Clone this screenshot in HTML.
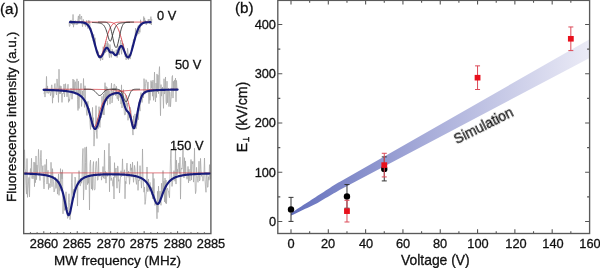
<!DOCTYPE html>
<html><head><meta charset="utf-8"><style>
html,body{margin:0;padding:0;background:#fff;}
body{width:600px;height:268px;overflow:hidden;position:relative;font-family:"Liberation Sans",sans-serif;color:#111;}
.t{position:absolute;white-space:nowrap;line-height:1;-webkit-text-stroke:0.3px #111;will-change:transform;}
svg{position:absolute;left:0;top:0;}
</style></head><body>
<svg width="600" height="268" viewBox="0 0 600 268">
<g fill="none" stroke="#a6a6a6" stroke-width="0.75" stroke-linejoin="miter">
<path d="M69.00,22.28 L69.45,26.52 L69.90,26.09 L70.35,20.03 L70.80,20.92 L71.25,19.96 L71.70,24.00 L72.15,21.95 L72.60,24.57 L73.05,14.43 L73.50,27.20 L73.95,21.78 L74.40,24.37 L74.85,21.62 L75.30,20.60 L75.75,23.68 L76.20,24.84 L76.65,21.36 L77.10,21.57 L77.55,24.41 L78.00,18.56 L78.45,15.87 L78.90,23.50 L79.35,19.43 L79.80,14.19 L80.25,18.85 L80.70,19.35 L81.15,17.30 L81.60,16.08 L82.05,22.50 L82.50,26.74 L82.95,21.51 L83.40,19.45 L83.85,23.89 L84.30,25.07 L84.75,21.66 L85.20,24.84 L85.65,26.64 L86.10,22.69 L86.55,20.44 L87.00,25.33 L87.45,25.43 L87.90,28.64 L88.35,20.30 L88.80,23.57 L89.25,23.58 L89.70,20.66 L90.15,29.29 L90.60,31.62 L91.05,27.98 L91.50,36.78 L91.95,37.65 L92.40,37.17 L92.85,37.99 L93.30,41.38 L93.75,34.40 L94.20,44.65 L94.65,46.34 L95.10,37.76 L95.55,48.00 L96.00,47.49 L96.45,52.62 L96.90,49.75 L97.35,52.86 L97.80,55.23 L98.25,51.46 L98.70,57.88 L99.15,56.14 L99.60,58.56 L100.05,54.97 L100.50,60.61 L100.95,58.83 L101.40,55.71 L101.85,57.88 L102.30,59.13 L102.75,59.97 L103.20,46.68 L103.65,55.14 L104.10,52.82 L104.55,50.00 L105.00,45.32 L105.45,52.85 L105.90,42.97 L106.35,49.73 L106.80,51.95 L107.25,41.19 L107.70,47.01 L108.15,43.38 L108.60,50.43 L109.05,55.36 L109.50,57.80 L109.95,44.49 L110.40,49.91 L110.85,54.70 L111.30,57.46 L111.75,53.69 L112.20,49.24 L112.65,53.52 L113.10,52.85 L113.55,52.13 L114.00,50.88 L114.45,55.74 L114.90,55.92 L115.35,54.82 L115.80,54.31 L116.25,49.62 L116.70,52.48 L117.15,57.63 L117.60,52.00 L118.05,45.64 L118.50,54.76 L118.95,51.85 L119.40,54.96 L119.85,47.48 L120.30,43.66 L120.75,40.03 L121.20,50.18 L121.65,54.28 L122.10,43.00 L122.55,44.37 L123.00,49.84 L123.45,43.70 L123.90,48.90 L124.35,49.74 L124.80,52.99 L125.25,57.01 L125.70,54.62 L126.15,59.88 L126.60,53.59 L127.05,57.87 L127.50,48.22 L127.95,51.27 L128.40,59.85 L128.85,54.54 L129.30,58.37 L129.75,57.53 L130.20,59.10 L130.65,56.36 L131.10,55.75 L131.55,50.62 L132.00,45.16 L132.45,44.87 L132.90,44.21 L133.35,39.80 L133.80,39.36 L134.25,40.69 L134.70,40.19 L135.15,36.32 L135.60,28.08 L136.05,34.35 L136.50,33.96 L136.95,35.39 L137.40,32.55 L137.85,26.89 L138.30,25.54 L138.75,34.10 L139.20,29.28 L139.65,32.00 L140.10,32.33 L140.55,19.81 L141.00,25.73 L141.45,25.56 L141.90,25.54 L142.35,25.19 L142.80,23.86 L143.25,23.57 L143.70,16.53 L144.15,22.01 L144.60,17.89 L145.05,22.91 L145.50,20.47 L145.95,24.36 L146.40,24.95 L146.85,23.28 L147.30,23.28 L147.75,22.54 L148.20,19.41 L148.65,21.52 L149.10,19.08 L149.55,23.44 L150.00,22.23 L150.45,24.04 L150.90,16.60 L151.35,25.01 L151.80,18.97"/>
<path d="M44.00,94.12 L44.50,90.06 L45.00,97.09 L45.50,88.75 L46.00,91.54 L46.50,76.41 L47.00,93.28 L47.50,85.93 L48.00,92.58 L48.50,93.41 L49.00,88.93 L49.50,92.38 L50.00,89.89 L50.50,95.73 L51.00,93.82 L51.50,85.15 L52.00,84.80 L52.50,103.19 L53.00,89.22 L53.50,97.59 L54.00,93.13 L54.50,85.12 L55.00,83.48 L55.50,91.15 L56.00,92.20 L56.50,94.91 L57.00,78.93 L57.50,85.01 L58.00,89.53 L58.50,102.43 L59.00,69.21 L59.50,93.78 L60.00,85.66 L60.50,93.79 L61.00,86.17 L61.50,93.37 L62.00,102.41 L62.50,93.38 L63.00,94.02 L63.50,93.61 L64.00,84.11 L64.50,97.03 L65.00,89.10 L65.50,83.73 L66.00,90.74 L66.50,89.11 L67.00,96.87 L67.50,90.91 L68.00,84.22 L68.50,102.36 L69.00,98.94 L69.50,101.13 L70.00,96.26 L70.50,90.81 L71.00,88.13 L71.50,89.49 L72.00,99.23 L72.50,93.08 L73.00,79.03 L73.50,92.16 L74.00,79.91 L74.50,94.06 L75.00,82.15 L75.50,81.79 L76.00,94.24 L76.50,92.85 L77.00,78.82 L77.50,99.62 L78.00,110.49 L78.50,81.21 L79.00,108.49 L79.50,88.97 L80.00,91.06 L80.50,94.27 L81.00,83.28 L81.50,106.47 L82.00,100.91 L82.50,90.97 L83.00,95.82 L83.50,78.47 L84.00,96.50 L84.50,107.40 L85.00,85.76 L85.50,98.18 L86.00,104.20 L86.50,112.04 L87.00,115.49 L87.50,102.55 L88.00,101.41 L88.50,112.98 L89.00,107.98 L89.50,110.21 L90.00,122.95 L90.50,129.45 L91.00,120.74 L91.50,118.11 L92.00,126.89 L92.50,107.39 L93.00,125.78 L93.50,117.69 L94.00,146.11 L94.50,134.17 L95.00,130.02 L95.50,127.02 L96.00,105.60 L96.50,132.75 L97.00,138.56 L97.50,118.53 L98.00,128.82 L98.50,127.61 L99.00,106.66 L99.50,125.96 L100.00,127.39 L100.50,117.19 L101.00,113.13 L101.50,117.84 L102.00,96.31 L102.50,109.17 L103.00,114.75 L103.50,94.12 L104.00,115.04 L104.50,98.80 L105.00,82.66 L105.50,99.39 L106.00,86.30 L106.50,101.01 L107.00,87.36 L107.50,105.17 L108.00,90.12 L108.50,98.97 L109.00,90.55 L109.50,92.63 L110.00,104.15 L110.50,96.55 L111.00,91.12 L111.50,83.18 L112.00,102.93 L112.50,99.54 L113.00,90.93 L113.50,95.54 L114.00,84.31 L114.50,84.31 L115.00,85.90 L115.50,95.88 L116.00,95.37 L116.50,86.38 L117.00,98.57 L117.50,98.91 L118.00,94.35 L118.50,100.92 L119.00,90.69 L119.50,92.51 L120.00,97.46 L120.50,94.14 L121.00,104.11 L121.50,84.85 L122.00,107.98 L122.50,91.63 L123.00,98.73 L123.50,89.49 L124.00,108.11 L124.50,114.84 L125.00,114.87 L125.50,114.44 L126.00,95.29 L126.50,103.14 L127.00,106.68 L127.50,102.97 L128.00,120.30 L128.50,113.83 L129.00,112.98 L129.50,117.87 L130.00,106.97 L130.50,109.01 L131.00,111.17 L131.50,124.95 L132.00,125.94 L132.50,129.72 L133.00,135.09 L133.50,115.78 L134.00,123.14 L134.50,128.61 L135.00,113.88 L135.50,119.11 L136.00,128.95 L136.50,126.82 L137.00,123.76 L137.50,113.17 L138.00,108.23 L138.50,119.73 L139.00,101.89 L139.50,105.65 L140.00,111.15 L140.50,96.23 L141.00,92.59 L141.50,96.75 L142.00,102.50 L142.50,98.50 L143.00,95.31 L143.50,97.70 L144.00,78.63 L144.50,84.88 L145.00,94.11 L145.50,83.64 L146.00,79.69 L146.50,80.70 L147.00,83.14 L147.50,89.66 L148.00,81.94 L148.50,92.80 L149.00,103.66 L149.50,89.53 L150.00,100.34 L150.50,92.87 L151.00,80.56 L151.50,88.27 L152.00,81.69 L152.50,96.23 L153.00,80.05 L153.50,100.30 L154.00,94.68 L154.50,72.10 L155.00,96.14 L155.50,101.87 L156.00,83.08 L156.50,97.55 L157.00,73.95 L157.50,92.00 L158.00,75.13 L158.50,93.67 L159.00,73.94 L159.50,66.61 L160.00,92.96 L160.50,115.70 L161.00,84.58 L161.50,96.15 L162.00,90.74 L162.50,86.98 L163.00,94.49 L163.50,108.34 L164.00,78.73 L164.50,94.06 L165.00,92.40 L165.50,76.98 L166.00,101.90 L166.50,104.40 L167.00,81.19 L167.50,102.79 L168.00,90.16 L168.50,88.26 L169.00,106.63 L169.50,91.41 L170.00,92.12 L170.50,106.76 L171.00,99.34 L171.50,96.37 L172.00,77.06 L172.50,75.50 L173.00,98.09 L173.50,81.30 L174.00,90.74 L174.50,79.96 L175.00,87.96 L175.50,78.10 L176.00,101.83 L176.50,80.43 L177.00,88.49 L177.50,87.89"/>
<path d="M24.50,149.70 L25.00,168.90 L25.50,170.60 L26.00,185.51 L26.50,194.12 L27.00,158.55 L27.50,197.37 L28.00,188.72 L28.50,181.84 L29.00,177.39 L29.50,196.96 L30.00,174.70 L30.50,168.54 L31.00,175.30 L31.50,158.29 L32.00,178.52 L32.50,172.82 L33.00,178.86 L33.50,177.53 L34.00,161.99 L34.50,186.67 L35.00,162.56 L35.50,182.67 L36.00,155.97 L36.50,179.67 L37.00,164.94 L37.50,174.79 L38.00,166.96 L38.50,149.39 L39.00,161.72 L39.50,175.21 L40.00,180.54 L40.50,157.80 L41.00,150.31 L41.50,164.77 L42.00,172.43 L42.50,167.64 L43.00,165.68 L43.50,183.11 L44.00,188.94 L44.50,182.23 L45.00,164.51 L45.50,176.08 L46.00,173.25 L46.50,159.16 L47.00,184.04 L47.50,176.60 L48.00,170.34 L48.50,189.48 L49.00,183.41 L49.50,184.43 L50.00,187.86 L50.50,183.45 L51.00,162.29 L51.50,172.56 L52.00,186.75 L52.50,168.63 L53.00,178.04 L53.50,181.74 L54.00,191.95 L54.50,190.91 L55.00,187.46 L55.50,177.19 L56.00,188.41 L56.50,185.20 L57.00,178.85 L57.50,194.14 L58.00,186.56 L58.50,173.88 L59.00,195.34 L59.50,181.25 L60.00,190.73 L60.50,168.64 L61.00,187.11 L61.50,172.39 L62.00,178.90 L62.50,169.73 L63.00,213.83 L63.50,193.73 L64.00,199.84 L64.50,210.42 L65.00,200.95 L65.50,209.73 L66.00,191.75 L66.50,211.62 L67.00,207.15 L67.50,218.36 L68.00,217.40 L68.50,199.36 L69.00,193.78 L69.50,202.50 L70.00,219.64 L70.50,214.69 L71.00,212.18 L71.50,182.66 L72.00,173.37 L72.50,193.70 L73.00,194.68 L73.50,189.35 L74.00,197.61 L74.50,190.42 L75.00,177.07 L75.50,179.07 L76.00,189.18 L76.50,187.28 L77.00,184.65 L77.50,206.06 L78.00,180.62 L78.50,184.57 L79.00,170.68 L79.50,177.36 L80.00,185.89 L80.50,185.77 L81.00,178.10 L81.50,183.22 L82.00,179.60 L82.50,157.08 L83.00,148.48 L83.50,200.03 L84.00,185.70 L84.50,176.90 L85.00,147.34 L85.50,162.44 L86.00,189.79 L86.50,146.83 L87.00,172.83 L87.50,184.65 L88.00,177.62 L88.50,183.29 L89.00,174.49 L89.50,209.98 L90.00,163.95 L90.50,160.00 L91.00,178.18 L91.50,189.06 L92.00,174.43 L92.50,190.27 L93.00,166.09 L93.50,161.55 L94.00,188.41 L94.50,189.96 L95.00,189.56 L95.50,169.90 L96.00,161.61 L96.50,161.40 L97.00,172.22 L97.50,180.29 L98.00,179.56 L98.50,158.19 L99.00,176.50 L99.50,174.78 L100.00,175.44 L100.50,174.29 L101.00,172.21 L101.50,180.14 L102.00,175.69 L102.50,176.60 L103.00,166.50 L103.50,178.18 L104.00,173.01 L104.50,150.07 L105.00,178.97 L105.50,171.32 L106.00,183.15 L106.50,172.48 L107.00,173.23 L107.50,176.33 L108.00,174.18 L108.50,169.17 L109.00,143.37 L109.50,191.81 L110.00,156.14 L110.50,170.37 L111.00,180.50 L111.50,177.90 L112.00,179.68 L112.50,181.61 L113.00,186.30 L113.50,177.13 L114.00,199.01 L114.50,162.66 L115.00,177.56 L115.50,170.18 L116.00,168.07 L116.50,177.08 L117.00,188.22 L117.50,166.21 L118.00,166.21 L118.50,181.29 L119.00,179.59 L119.50,193.04 L120.00,184.22 L120.50,176.66 L121.00,170.71 L121.50,176.57 L122.00,172.53 L122.50,158.87 L123.00,174.68 L123.50,172.61 L124.00,171.98 L124.50,169.75 L125.00,198.81 L125.50,181.38 L126.00,183.70 L126.50,167.85 L127.00,163.12 L127.50,171.68 L128.00,177.30 L128.50,171.06 L129.00,172.92 L129.50,184.27 L130.00,178.04 L130.50,163.95 L131.00,170.41 L131.50,167.84 L132.00,177.19 L132.50,162.13 L133.00,173.58 L133.50,182.31 L134.00,176.10 L134.50,165.42 L135.00,168.94 L135.50,177.92 L136.00,180.86 L136.50,184.35 L137.00,174.87 L137.50,161.53 L138.00,190.38 L138.50,179.84 L139.00,181.04 L139.50,180.28 L140.00,165.65 L140.50,174.13 L141.00,180.49 L141.50,188.11 L142.00,179.14 L142.50,148.97 L143.00,176.41 L143.50,182.88 L144.00,192.19 L144.50,187.06 L145.00,204.40 L145.50,201.51 L146.00,194.53 L146.50,191.24 L147.00,166.99 L147.50,191.59 L148.00,189.95 L148.50,178.98 L149.00,191.44 L149.50,190.74 L150.00,182.40 L150.50,187.38 L151.00,186.90 L151.50,194.41 L152.00,187.51 L152.50,198.89 L153.00,173.03 L153.50,193.24 L154.00,178.49 L154.50,193.66 L155.00,205.40 L155.50,201.84 L156.00,201.33 L156.50,204.00 L157.00,218.75 L157.50,191.33 L158.00,212.39 L158.50,186.18 L159.00,197.54 L159.50,203.58 L160.00,191.15 L160.50,201.67 L161.00,205.31 L161.50,183.28 L162.00,194.72 L162.50,189.90 L163.00,170.56 L163.50,189.43 L164.00,181.18 L164.50,201.91 L165.00,178.04 L165.50,203.24 L166.00,180.02 L166.50,203.70 L167.00,189.61 L167.50,188.06 L168.00,190.72 L168.50,191.01 L169.00,195.19 L169.50,197.79 L170.00,176.85 L170.50,158.82 L171.00,150.06 L171.50,175.12 L172.00,186.44 L172.50,182.48 L173.00,179.67 L173.50,174.26 L174.00,170.66 L174.50,174.51 L175.00,181.24 L175.50,146.88 L176.00,184.05 L176.50,160.16 L177.00,174.94 L177.50,169.29 L178.00,172.19 L178.50,164.24 L179.00,162.86 L179.50,173.34 L180.00,157.13 L180.50,199.11 L181.00,170.84 L181.50,167.97 L182.00,169.09 L182.50,162.99 L183.00,146.98 L183.50,172.20 L184.00,178.02 L184.50,157.69 L185.00,174.98 L185.50,160.93 L186.00,174.37 L186.50,178.14 L187.00,179.28 L187.50,178.75 L188.00,166.45 L188.50,182.87 L189.00,169.29 L189.50,177.73 L190.00,181.06 L190.50,170.81 L191.00,159.49 L191.50,180.07 L192.00,161.34 L192.50,163.90 L193.00,161.43 L193.50,182.10 L194.00,172.17 L194.50,148.15 L195.00,180.98 L195.50,193.64 L196.00,191.04 L196.50,167.36 L197.00,174.62 L197.50,178.70 L198.00,182.32 L198.50,174.26 L199.00,161.18 L199.50,180.94 L200.00,179.59 L200.50,158.40 L201.00,169.46 L201.50,176.24 L202.00,173.61 L202.50,178.62 L203.00,181.18 L203.50,178.75 L204.00,172.25 L204.50,158.04 L205.00,179.40 L205.50,186.85 L206.00,192.29 L206.50,173.10 L207.00,173.06 L207.50,187.22 L208.00,187.14 L208.50,176.69 L209.00,180.21 L209.50,164.64 L210.00,178.96"/>
</g>
<g fill="none" stroke-width="0.9">
<path stroke="#d63c44" d="M70.00,22.10 L70.50,22.10 L71.00,22.10 L71.50,22.10 L72.00,22.10 L72.50,22.10 L73.00,22.10 L73.50,22.10 L74.00,22.10 L74.50,22.10 L75.00,22.10 L75.50,22.10 L76.00,22.10 L76.50,22.11 L77.00,22.11 L77.50,22.11 L78.00,22.11 L78.50,22.12 L79.00,22.12 L79.50,22.13 L80.00,22.14 L80.50,22.15 L81.00,22.17 L81.50,22.20 L82.00,22.24 L82.50,22.29 L83.00,22.35 L83.50,22.43 L84.00,22.53 L84.50,22.67 L85.00,22.84 L85.50,23.04 L86.00,23.30 L86.50,23.62 L87.00,24.01 L87.50,24.47 L88.00,25.02 L88.50,25.67 L89.00,26.42 L89.50,27.29 L90.00,28.28 L90.50,29.40 L91.00,30.65 L91.50,32.03 L92.00,33.53 L92.50,35.14 L93.00,36.86 L93.50,38.66 L94.00,40.52 L94.50,42.42 L95.00,44.32 L95.50,46.19 L96.00,48.00 L96.50,49.71 L97.00,51.28 L97.50,52.68 L98.00,53.88 L98.50,54.84 L99.00,55.54 L99.50,55.96 L100.00,56.10 L100.50,55.95 L101.00,55.52 L101.50,54.81 L102.00,53.84 L102.50,52.64 L103.00,51.24 L103.50,49.66 L104.00,47.95 L104.50,46.13 L105.00,44.26 L105.50,42.36 L106.00,40.46 L106.50,38.60 L107.00,36.80 L107.50,35.09 L108.00,33.48 L108.50,31.98 L109.00,30.61 L109.50,29.36 L110.00,28.25 L110.50,27.26 L111.00,26.40 L111.50,25.65 L112.00,25.00 L112.50,24.45 L113.00,23.99 L113.50,23.61 L114.00,23.29 L114.50,23.04 L115.00,22.83 L115.50,22.66 L116.00,22.53 L116.50,22.43 L117.00,22.35 L117.50,22.28 L118.00,22.24 L118.50,22.20 L119.00,22.17 L119.50,22.15 L120.00,22.14 L120.50,22.13 L121.00,22.12 L121.50,22.12 L122.00,22.11 L122.50,22.11 L123.00,22.11 L123.50,22.11 L124.00,22.10 L124.50,22.10 L125.00,22.10 L125.50,22.10 L126.00,22.10 L126.50,22.10 L127.00,22.10 L127.50,22.10 L128.00,22.10 L128.50,22.10 L129.00,22.10 L129.50,22.10 L130.00,22.10 L130.50,22.10 L131.00,22.10 L131.50,22.10 L132.00,22.10 L132.50,22.10 L133.00,22.10 L133.50,22.10 L134.00,22.10 L134.50,22.10 L135.00,22.10 L135.50,22.10 L136.00,22.10 L136.50,22.10 L137.00,22.10 L137.50,22.10 L138.00,22.10 L138.50,22.10 L139.00,22.10 L139.50,22.10 L140.00,22.10 L140.50,22.10 L141.00,22.10 L141.50,22.10 L142.00,22.10 L142.50,22.10 L143.00,22.10 L143.50,22.10 L144.00,22.10 L144.50,22.10 L145.00,22.10 L145.50,22.10 L146.00,22.10 L146.50,22.10 L147.00,22.10 L147.50,22.10 L148.00,22.10 L148.50,22.10 L149.00,22.10 L149.50,22.10 L150.00,22.10 L150.50,22.10 L151.00,22.10"/>
<path stroke="#d63c44" d="M70.00,22.10 L70.50,22.10 L71.00,22.10 L71.50,22.10 L72.00,22.10 L72.50,22.10 L73.00,22.10 L73.50,22.10 L74.00,22.10 L74.50,22.10 L75.00,22.10 L75.50,22.10 L76.00,22.10 L76.50,22.10 L77.00,22.10 L77.50,22.10 L78.00,22.10 L78.50,22.10 L79.00,22.10 L79.50,22.10 L80.00,22.10 L80.50,22.10 L81.00,22.10 L81.50,22.10 L82.00,22.10 L82.50,22.10 L83.00,22.10 L83.50,22.10 L84.00,22.10 L84.50,22.10 L85.00,22.10 L85.50,22.10 L86.00,22.10 L86.50,22.10 L87.00,22.10 L87.50,22.10 L88.00,22.10 L88.50,22.10 L89.00,22.10 L89.50,22.10 L90.00,22.10 L90.50,22.10 L91.00,22.10 L91.50,22.10 L92.00,22.10 L92.50,22.10 L93.00,22.10 L93.50,22.10 L94.00,22.10 L94.50,22.10 L95.00,22.10 L95.50,22.10 L96.00,22.10 L96.50,22.10 L97.00,22.10 L97.50,22.10 L98.00,22.10 L98.50,22.10 L99.00,22.10 L99.50,22.10 L100.00,22.10 L100.50,22.10 L101.00,22.10 L101.50,22.10 L102.00,22.10 L102.50,22.10 L103.00,22.10 L103.50,22.10 L104.00,22.11 L104.50,22.11 L105.00,22.11 L105.50,22.11 L106.00,22.11 L106.50,22.12 L107.00,22.13 L107.50,22.13 L108.00,22.15 L108.50,22.16 L109.00,22.19 L109.50,22.22 L110.00,22.26 L110.50,22.31 L111.00,22.39 L111.50,22.48 L112.00,22.59 L112.50,22.74 L113.00,22.92 L113.50,23.14 L114.00,23.42 L114.50,23.76 L115.00,24.17 L115.50,24.65 L116.00,25.23 L116.50,25.90 L117.00,26.68 L117.50,27.58 L118.00,28.59 L118.50,29.74 L119.00,31.01 L119.50,32.41 L120.00,33.92 L120.50,35.56 L121.00,37.29 L121.50,39.10 L122.00,40.98 L122.50,42.89 L123.00,44.81 L123.50,46.70 L124.00,48.53 L124.50,50.26 L125.00,51.86 L125.50,53.30 L126.00,54.53 L126.50,55.54 L127.00,56.30 L127.50,56.79 L128.00,57.00 L128.50,56.92 L129.00,56.56 L129.50,55.92 L130.00,55.02 L130.50,53.88 L131.00,52.53 L131.50,51.00 L132.00,49.33 L132.50,47.54 L133.00,45.67 L133.50,43.76 L134.00,41.84 L134.50,39.95 L135.00,38.10 L135.50,36.33 L136.00,34.65 L136.50,33.08 L137.00,31.63 L137.50,30.30 L138.00,29.10 L138.50,28.02 L139.00,27.07 L139.50,26.24 L140.00,25.52 L140.50,24.90 L141.00,24.38 L141.50,23.93 L142.00,23.57 L142.50,23.26 L143.00,23.01 L143.50,22.81 L144.00,22.65 L144.50,22.52 L145.00,22.42 L145.50,22.34 L146.00,22.28 L146.50,22.24 L147.00,22.20 L147.50,22.17 L148.00,22.15 L148.50,22.14 L149.00,22.13 L149.50,22.12 L150.00,22.12 L150.50,22.11 L151.00,22.11"/>
<path stroke="#333333" d="M92.00,22.44 L92.50,22.46 L93.00,22.48 L93.50,22.50 L94.00,22.52 L94.50,22.55 L95.00,22.58 L95.50,22.61 L96.00,22.64 L96.50,22.68 L97.00,22.73 L97.50,22.77 L98.00,22.83 L98.50,22.89 L99.00,22.96 L99.50,23.05 L100.00,23.15 L100.50,23.28 L101.00,23.44 L101.50,23.63 L102.00,23.88 L102.50,24.19 L103.00,24.58 L103.50,25.07 L104.00,25.67 L104.50,26.41 L105.00,27.31 L105.50,28.37 L106.00,29.60 L106.50,31.00 L107.00,32.57 L107.50,34.28 L108.00,36.06 L108.50,37.83 L109.00,39.41 L109.50,40.61 L110.00,41.20 L110.50,41.07 L111.00,40.23 L111.50,38.86 L112.00,37.19 L112.50,35.40 L113.00,33.63 L113.50,31.97 L114.00,30.46 L114.50,29.12 L115.00,27.95 L115.50,26.96 L116.00,26.12 L116.50,25.43 L117.00,24.87 L117.50,24.42 L118.00,24.06 L118.50,23.78 L119.00,23.55 L119.50,23.38 L120.00,23.23 L120.50,23.11 L121.00,23.02 L121.50,22.94 L122.00,22.87 L122.50,22.81 L123.00,22.75 L123.50,22.71 L124.00,22.67 L124.50,22.63 L125.00,22.60 L125.50,22.57 L126.00,22.54 L126.50,22.51 L127.00,22.49 L127.50,22.47 L128.00,22.45 L128.50,22.43 L129.00,22.41 L129.50,22.40 L130.00,22.38"/>
<path stroke="#333333" d="M98.00,22.10 L98.50,22.10 L99.00,22.10 L99.50,22.10 L100.00,22.10 L100.50,22.10 L101.00,22.10 L101.50,22.10 L102.00,22.10 L102.50,22.11 L103.00,22.11 L103.50,22.12 L104.00,22.13 L104.50,22.15 L105.00,22.18 L105.50,22.23 L106.00,22.31 L106.50,22.44 L107.00,22.62 L107.50,22.89 L108.00,23.28 L108.50,23.80 L109.00,24.51 L109.50,25.44 L110.00,26.60 L110.50,28.04 L111.00,29.74 L111.50,31.70 L112.00,33.88 L112.50,36.20 L113.00,38.59 L113.50,40.93 L114.00,43.09 L114.50,44.94 L115.00,46.37 L115.50,47.28 L116.00,47.61 L116.50,47.32 L117.00,46.45 L117.50,45.05 L118.00,43.22 L118.50,41.08 L119.00,38.75 L119.50,36.36 L120.00,34.03 L120.50,31.84 L121.00,29.86 L121.50,28.14 L122.00,26.69 L122.50,25.51 L123.00,24.57 L123.50,23.85 L124.00,23.31 L124.50,22.91 L125.00,22.64 L125.50,22.45 L126.00,22.32 L126.50,22.23 L127.00,22.18 L127.50,22.15 L128.00,22.13 L128.50,22.12 L129.00,22.11 L129.50,22.11 L130.00,22.10 L130.50,22.10 L131.00,22.10 L131.50,22.10 L132.00,22.10 L132.50,22.10 L133.00,22.10 L133.50,22.10 L134.00,22.10"/>
<path stroke="#d63c44" d="M43.40,89.79 L43.90,89.80 L44.40,89.82 L44.90,89.83 L45.40,89.84 L45.90,89.85 L46.40,89.87 L46.90,89.88 L47.40,89.89 L47.90,89.91 L48.40,89.92 L48.90,89.94 L49.40,89.96 L49.90,89.97 L50.40,89.99 L50.90,90.01 L51.40,90.02 L51.90,90.04 L52.40,90.06 L52.90,90.08 L53.40,90.10 L53.90,90.13 L54.40,90.15 L54.90,90.17 L55.40,90.20 L55.90,90.22 L56.40,90.25 L56.90,90.27 L57.40,90.30 L57.90,90.33 L58.40,90.36 L58.90,90.39 L59.40,90.43 L59.90,90.46 L60.40,90.50 L60.90,90.53 L61.40,90.57 L61.90,90.61 L62.40,90.66 L62.90,90.70 L63.40,90.75 L63.90,90.80 L64.40,90.85 L64.90,90.90 L65.40,90.96 L65.90,91.02 L66.40,91.08 L66.90,91.14 L67.40,91.21 L67.90,91.28 L68.40,91.36 L68.90,91.44 L69.40,91.52 L69.90,91.61 L70.40,91.71 L70.90,91.81 L71.40,91.91 L71.90,92.02 L72.40,92.14 L72.90,92.27 L73.40,92.40 L73.90,92.55 L74.40,92.70 L74.90,92.86 L75.40,93.04 L75.90,93.23 L76.40,93.43 L76.90,93.64 L77.40,93.87 L77.90,94.12 L78.40,94.39 L78.90,94.68 L79.40,94.99 L79.90,95.33 L80.40,95.70 L80.90,96.10 L81.40,96.53 L81.90,97.00 L82.40,97.52 L82.90,98.08 L83.40,98.69 L83.90,99.37 L84.40,100.10 L84.90,100.91 L85.40,101.79 L85.90,102.76 L86.40,103.83 L86.90,104.99 L87.40,106.26 L87.90,107.64 L88.40,109.13 L88.90,110.74 L89.40,112.45 L89.90,114.26 L90.40,116.13 L90.90,118.03 L91.40,119.91 L91.90,121.72 L92.40,123.37 L92.90,124.78 L93.40,125.87 L93.90,126.57 L94.40,126.84 L94.90,126.65 L95.40,126.02 L95.90,125.00 L96.40,123.64 L96.90,122.03 L97.40,120.25 L97.90,118.38 L98.40,116.47 L98.90,114.59 L99.40,112.77 L99.90,111.04 L100.40,109.42 L100.90,107.90 L101.40,106.50 L101.90,105.21 L102.40,104.03 L102.90,102.95 L103.40,101.96 L103.90,101.06 L104.40,100.24 L104.90,99.50 L105.40,98.81 L105.90,98.19 L106.40,97.62 L106.90,97.09 L107.40,96.61 L107.90,96.17 L108.40,95.77 L108.90,95.40 L109.40,95.05 L109.90,94.74 L110.40,94.44 L110.90,94.17 L111.40,93.92 L111.90,93.68 L112.40,93.46 L112.90,93.26 L113.40,93.07 L113.90,92.90 L114.40,92.73 L114.90,92.58 L115.40,92.43 L115.90,92.29 L116.40,92.17 L116.90,92.05 L117.40,91.93 L117.90,91.82 L118.40,91.72 L118.90,91.63 L119.40,91.54 L119.90,91.45 L120.40,91.37 L120.90,91.30 L121.40,91.22 L121.90,91.15 L122.40,91.09 L122.90,91.03 L123.40,90.97 L123.90,90.91 L124.40,90.86 L124.90,90.81 L125.40,90.76 L125.90,90.71 L126.40,90.66 L126.90,90.62 L127.40,90.58 L127.90,90.54 L128.40,90.50 L128.90,90.47 L129.40,90.43 L129.90,90.40 L130.40,90.37 L130.90,90.34 L131.40,90.31 L131.90,90.28 L132.40,90.25 L132.90,90.23 L133.40,90.20 L133.90,90.18 L134.40,90.15 L134.90,90.13 L135.40,90.11 L135.90,90.09 L136.40,90.07 L136.90,90.05 L137.40,90.03 L137.90,90.01 L138.40,89.99 L138.90,89.97 L139.40,89.96 L139.90,89.94 L140.40,89.93 L140.90,89.91 L141.40,89.90 L141.90,89.88 L142.40,89.87 L142.90,89.86 L143.40,89.84 L143.90,89.83 L144.40,89.82 L144.90,89.81 L145.40,89.79 L145.90,89.78 L146.40,89.77 L146.90,89.76 L147.40,89.75 L147.90,89.74 L148.40,89.73 L148.90,89.72 L149.40,89.71 L149.90,89.70 L150.40,89.70 L150.90,89.69 L151.40,89.68 L151.90,89.67 L152.40,89.66 L152.90,89.66 L153.40,89.65 L153.90,89.64 L154.40,89.63 L154.90,89.63 L155.40,89.62 L155.90,89.61 L156.40,89.61 L156.90,89.60 L157.40,89.59 L157.90,89.59 L158.40,89.58 L158.90,89.58 L159.40,89.57 L159.90,89.57 L160.40,89.56 L160.90,89.55 L161.40,89.55 L161.90,89.54 L162.40,89.54 L162.90,89.53 L163.40,89.53 L163.90,89.53 L164.40,89.52 L164.90,89.52 L165.40,89.51 L165.90,89.51 L166.40,89.50 L166.90,89.50 L167.40,89.50 L167.90,89.49 L168.40,89.49 L168.90,89.48 L169.40,89.48 L169.90,89.48 L170.40,89.47 L170.90,89.47 L171.40,89.47 L171.90,89.46 L172.40,89.46 L172.90,89.46 L173.40,89.45 L173.90,89.45 L174.40,89.45 L174.90,89.45 L175.40,89.44 L175.90,89.44 L176.40,89.44 L176.90,89.43 L177.40,89.43"/>
<path stroke="#d63c44" d="M43.40,89.24 L43.90,89.24 L44.40,89.24 L44.90,89.24 L45.40,89.24 L45.90,89.25 L46.40,89.25 L46.90,89.25 L47.40,89.25 L47.90,89.25 L48.40,89.25 L48.90,89.25 L49.40,89.25 L49.90,89.25 L50.40,89.25 L50.90,89.25 L51.40,89.25 L51.90,89.25 L52.40,89.25 L52.90,89.25 L53.40,89.25 L53.90,89.25 L54.40,89.25 L54.90,89.25 L55.40,89.26 L55.90,89.26 L56.40,89.26 L56.90,89.26 L57.40,89.26 L57.90,89.26 L58.40,89.26 L58.90,89.26 L59.40,89.26 L59.90,89.26 L60.40,89.26 L60.90,89.26 L61.40,89.26 L61.90,89.26 L62.40,89.26 L62.90,89.27 L63.40,89.27 L63.90,89.27 L64.40,89.27 L64.90,89.27 L65.40,89.27 L65.90,89.27 L66.40,89.27 L66.90,89.27 L67.40,89.27 L67.90,89.27 L68.40,89.28 L68.90,89.28 L69.40,89.28 L69.90,89.28 L70.40,89.28 L70.90,89.28 L71.40,89.28 L71.90,89.28 L72.40,89.28 L72.90,89.29 L73.40,89.29 L73.90,89.29 L74.40,89.29 L74.90,89.29 L75.40,89.29 L75.90,89.29 L76.40,89.30 L76.90,89.30 L77.40,89.30 L77.90,89.30 L78.40,89.30 L78.90,89.30 L79.40,89.31 L79.90,89.31 L80.40,89.31 L80.90,89.31 L81.40,89.31 L81.90,89.32 L82.40,89.32 L82.90,89.32 L83.40,89.32 L83.90,89.32 L84.40,89.33 L84.90,89.33 L85.40,89.33 L85.90,89.33 L86.40,89.34 L86.90,89.34 L87.40,89.34 L87.90,89.34 L88.40,89.35 L88.90,89.35 L89.40,89.35 L89.90,89.36 L90.40,89.36 L90.90,89.36 L91.40,89.37 L91.90,89.37 L92.40,89.38 L92.90,89.38 L93.40,89.38 L93.90,89.39 L94.40,89.39 L94.90,89.40 L95.40,89.40 L95.90,89.41 L96.40,89.41 L96.90,89.42 L97.40,89.42 L97.90,89.43 L98.40,89.44 L98.90,89.44 L99.40,89.45 L99.90,89.46 L100.40,89.46 L100.90,89.47 L101.40,89.48 L101.90,89.49 L102.40,89.50 L102.90,89.51 L103.40,89.52 L103.90,89.53 L104.40,89.54 L104.90,89.55 L105.40,89.56 L105.90,89.57 L106.40,89.59 L106.90,89.60 L107.40,89.61 L107.90,89.63 L108.40,89.65 L108.90,89.66 L109.40,89.68 L109.90,89.70 L110.40,89.72 L110.90,89.74 L111.40,89.77 L111.90,89.79 L112.40,89.82 L112.90,89.85 L113.40,89.88 L113.90,89.91 L114.40,89.95 L114.90,89.98 L115.40,90.02 L115.90,90.07 L116.40,90.12 L116.90,90.17 L117.40,90.23 L117.90,90.29 L118.40,90.36 L118.90,90.43 L119.40,90.52 L119.90,90.62 L120.40,90.73 L120.90,90.86 L121.40,91.02 L121.90,91.21 L122.40,91.43 L122.90,91.70 L123.40,92.04 L123.90,92.45 L124.40,92.95 L124.90,93.56 L125.40,94.30 L125.90,95.19 L126.40,96.25 L126.90,97.50 L127.40,98.96 L127.90,100.64 L128.40,102.54 L128.90,104.67 L129.40,107.02 L129.90,109.57 L130.40,112.28 L130.90,115.10 L131.40,117.94 L131.90,120.69 L132.40,123.18 L132.90,125.21 L133.40,126.56 L133.90,127.06 L134.40,126.66 L134.90,125.39 L135.40,123.43 L135.90,120.98 L136.40,118.25 L136.90,115.41 L137.40,112.59 L137.90,109.86 L138.40,107.30 L138.90,104.92 L139.40,102.77 L139.90,100.84 L140.40,99.13 L140.90,97.65 L141.40,96.38 L141.90,95.30 L142.40,94.39 L142.90,93.63 L143.40,93.01 L143.90,92.50 L144.40,92.08 L144.90,91.74 L145.40,91.46 L145.90,91.23 L146.40,91.04 L146.90,90.88 L147.40,90.75 L147.90,90.63 L148.40,90.53 L148.90,90.44 L149.40,90.36 L149.90,90.29 L150.40,90.23 L150.90,90.17 L151.40,90.12 L151.90,90.07 L152.40,90.03 L152.90,89.99 L153.40,89.95 L153.90,89.91 L154.40,89.88 L154.90,89.85 L155.40,89.82 L155.90,89.80 L156.40,89.77 L156.90,89.75 L157.40,89.72 L157.90,89.70 L158.40,89.68 L158.90,89.67 L159.40,89.65 L159.90,89.63 L160.40,89.62 L160.90,89.60 L161.40,89.59 L161.90,89.57 L162.40,89.56 L162.90,89.55 L163.40,89.54 L163.90,89.53 L164.40,89.52 L164.90,89.51 L165.40,89.50 L165.90,89.49 L166.40,89.48 L166.90,89.47 L167.40,89.47 L167.90,89.46 L168.40,89.45 L168.90,89.44 L169.40,89.44 L169.90,89.43 L170.40,89.43 L170.90,89.42 L171.40,89.41 L171.90,89.41 L172.40,89.40 L172.90,89.40 L173.40,89.39 L173.90,89.39 L174.40,89.38 L174.90,89.38 L175.40,89.38 L175.90,89.37 L176.40,89.37 L176.90,89.36 L177.40,89.36"/>
<path stroke="#333333" d="M84.00,89.21 L84.50,89.21 L85.00,89.21 L85.50,89.21 L86.00,89.21 L86.50,89.21 L87.00,89.21 L87.50,89.21 L88.00,89.22 L88.50,89.22 L89.00,89.24 L89.50,89.25 L90.00,89.28 L90.50,89.32 L91.00,89.38 L91.50,89.47 L92.00,89.59 L92.50,89.75 L93.00,89.96 L93.50,90.23 L94.00,90.56 L94.50,90.95 L95.00,91.41 L95.50,91.93 L96.00,92.49 L96.50,93.07 L97.00,93.65 L97.50,94.20 L98.00,94.68 L98.50,95.07 L99.00,95.35 L99.50,95.48 L100.00,95.48 L100.50,95.32 L101.00,95.03 L101.50,94.63 L102.00,94.13 L102.50,93.58 L103.00,93.00 L103.50,92.42 L104.00,91.86 L104.50,91.35 L105.00,90.90 L105.50,90.51 L106.00,90.19 L106.50,89.93 L107.00,89.73 L107.50,89.57 L108.00,89.46 L108.50,89.37 L109.00,89.32 L109.50,89.28 L110.00,89.25 L110.50,89.23 L111.00,89.22 L111.50,89.22 L112.00,89.21 L112.50,89.21 L113.00,89.21 L113.50,89.21 L114.00,89.21 L114.50,89.21 L115.00,89.21 L115.50,89.21 L116.00,89.21"/>
<path stroke="#333333" d="M112.00,89.21 L112.50,89.21 L113.00,89.21 L113.50,89.21 L114.00,89.21 L114.50,89.21 L115.00,89.21 L115.50,89.21 L116.00,89.22 L116.50,89.23 L117.00,89.26 L117.50,89.29 L118.00,89.36 L118.50,89.47 L119.00,89.63 L119.50,89.88 L120.00,90.25 L120.50,90.75 L121.00,91.42 L121.50,92.27 L122.00,93.31 L122.50,94.51 L123.00,95.85 L123.50,97.23 L124.00,98.59 L124.50,99.80 L125.00,100.77 L125.50,101.40 L126.00,101.64 L126.50,101.46 L127.00,100.87 L127.50,99.94 L128.00,98.76 L128.50,97.42 L129.00,96.03 L129.50,94.69 L130.00,93.46 L130.50,92.40 L131.00,91.52 L131.50,90.83 L132.00,90.31 L132.50,89.93 L133.00,89.66 L133.50,89.49 L134.00,89.37 L134.50,89.30 L135.00,89.26 L135.50,89.24 L136.00,89.22 L136.50,89.21 L137.00,89.21 L137.50,89.21 L138.00,89.21 L138.50,89.21 L139.00,89.21 L139.50,89.21 L140.00,89.21"/>
<path stroke="#d63c44" d="M24,172.9 L211,172.9" stroke-opacity="0.75"/>
</g>
<g fill="none" stroke="#171c7c" stroke-width="2.15" stroke-linejoin="round" stroke-linecap="round">
<path d="M70.00,22.17 L70.50,22.17 L71.00,22.18 L71.50,22.18 L72.00,22.18 L72.50,22.18 L73.00,22.18 L73.50,22.19 L74.00,22.19 L74.50,22.19 L75.00,22.19 L75.50,22.20 L76.00,22.20 L76.50,22.20 L77.00,22.21 L77.50,22.21 L78.00,22.22 L78.50,22.23 L79.00,22.24 L79.50,22.25 L80.00,22.26 L80.50,22.28 L81.00,22.31 L81.50,22.34 L82.00,22.38 L82.50,22.43 L83.00,22.50 L83.50,22.59 L84.00,22.70 L84.50,22.84 L85.00,23.01 L85.50,23.23 L86.00,23.50 L86.50,23.82 L87.00,24.22 L87.50,24.69 L88.00,25.25 L88.50,25.91 L89.00,26.67 L89.50,27.55 L90.00,28.56 L90.50,29.69 L91.00,30.95 L91.50,32.35 L92.00,33.86 L92.50,35.50 L93.00,37.23 L93.50,39.05 L94.00,40.94 L94.50,42.86 L95.00,44.80 L95.50,46.70 L96.00,48.55 L96.50,50.29 L97.00,51.91 L97.50,53.35 L98.00,54.60 L98.50,55.62 L99.00,56.40 L99.50,56.91 L100.00,57.16 L100.50,57.13 L101.00,56.85 L101.50,56.34 L102.00,55.62 L102.50,54.73 L103.00,53.72 L103.50,52.64 L104.00,51.54 L104.50,50.49 L105.00,49.54 L105.50,48.75 L106.00,48.17 L106.50,47.85 L107.00,47.81 L107.50,48.08 L108.00,48.65 L108.50,49.47 L109.00,50.42 L109.50,51.33 L110.00,52.01 L110.50,52.37 L111.00,52.44 L111.50,52.37 L112.00,52.34 L112.50,52.48 L113.00,52.83 L113.50,53.35 L114.00,53.96 L114.50,54.55 L115.00,55.02 L115.50,55.25 L116.00,55.18 L116.50,54.78 L117.00,54.04 L117.50,53.03 L118.00,51.81 L118.50,50.49 L119.00,49.18 L119.50,47.99 L120.00,47.01 L120.50,46.33 L121.00,45.98 L121.50,45.99 L122.00,46.34 L122.50,47.00 L123.00,47.93 L123.50,49.05 L124.00,50.30 L124.50,51.60 L125.00,52.89 L125.50,54.10 L126.00,55.18 L126.50,56.08 L127.00,56.77 L127.50,57.20 L128.00,57.37 L128.50,57.26 L129.00,56.87 L129.50,56.22 L130.00,55.30 L130.50,54.15 L131.00,52.79 L131.50,51.25 L132.00,49.56 L132.50,47.76 L133.00,45.88 L133.50,43.96 L134.00,42.04 L134.50,40.14 L135.00,38.28 L135.50,36.50 L136.00,34.82 L136.50,33.24 L137.00,31.78 L137.50,30.45 L138.00,29.24 L138.50,28.16 L139.00,27.21 L139.50,26.37 L140.00,25.65 L140.50,25.02 L141.00,24.49 L141.50,24.05 L142.00,23.68 L142.50,23.37 L143.00,23.12 L143.50,22.92 L144.00,22.75 L144.50,22.62 L145.00,22.52 L145.50,22.43 L146.00,22.37 L146.50,22.32 L147.00,22.28 L147.50,22.26 L148.00,22.23 L148.50,22.22 L149.00,22.20 L149.50,22.19 L150.00,22.19 L150.50,22.18"/>
<path d="M43.60,89.83 L44.10,89.84 L44.60,89.86 L45.10,89.87 L45.60,89.88 L46.10,89.90 L46.60,89.91 L47.10,89.92 L47.60,89.94 L48.10,89.95 L48.60,89.97 L49.10,89.99 L49.60,90.00 L50.10,90.02 L50.60,90.04 L51.10,90.06 L51.60,90.08 L52.10,90.09 L52.60,90.12 L53.10,90.14 L53.60,90.16 L54.10,90.18 L54.60,90.20 L55.10,90.23 L55.60,90.25 L56.10,90.28 L56.60,90.31 L57.10,90.33 L57.60,90.36 L58.10,90.39 L58.60,90.43 L59.10,90.46 L59.60,90.49 L60.10,90.53 L60.60,90.57 L61.10,90.60 L61.60,90.65 L62.10,90.69 L62.60,90.73 L63.10,90.78 L63.60,90.83 L64.10,90.88 L64.60,90.93 L65.10,90.98 L65.60,91.04 L66.10,91.10 L66.60,91.17 L67.10,91.23 L67.60,91.31 L68.10,91.38 L68.60,91.46 L69.10,91.54 L69.60,91.63 L70.10,91.72 L70.60,91.82 L71.10,91.92 L71.60,92.03 L72.10,92.15 L72.60,92.27 L73.10,92.40 L73.60,92.54 L74.10,92.69 L74.60,92.85 L75.10,93.02 L75.60,93.20 L76.10,93.39 L76.60,93.60 L77.10,93.82 L77.60,94.06 L78.10,94.32 L78.60,94.60 L79.10,94.90 L79.60,95.22 L80.10,95.58 L80.60,95.96 L81.10,96.37 L81.60,96.82 L82.10,97.31 L82.60,97.85 L83.10,98.43 L83.60,99.07 L84.10,99.77 L84.60,100.54 L85.10,101.38 L85.60,102.30 L86.10,103.31 L86.60,104.41 L87.10,105.62 L87.60,106.94 L88.10,108.37 L88.60,109.92 L89.10,111.59 L89.60,113.36 L90.10,115.23 L90.60,117.17 L91.10,119.14 L91.60,121.09 L92.10,122.98 L92.60,124.71 L93.10,126.23 L93.60,127.46 L94.10,128.34 L94.60,128.84 L95.10,128.95 L95.60,128.69 L96.10,128.09 L96.60,127.21 L97.10,126.10 L97.60,124.82 L98.10,123.40 L98.60,121.88 L99.10,120.27 L99.60,118.60 L100.10,116.88 L100.60,115.12 L101.10,113.35 L101.60,111.57 L102.10,109.83 L102.60,108.14 L103.10,106.52 L103.60,105.00 L104.10,103.60 L104.60,102.32 L105.10,101.17 L105.60,100.15 L106.10,99.25 L106.60,98.46 L107.10,97.78 L107.60,97.18 L108.10,96.67 L108.60,96.22 L109.10,95.82 L109.60,95.47 L110.10,95.16 L110.60,94.88 L111.10,94.63 L111.60,94.40 L112.10,94.19 L112.60,94.01 L113.10,93.84 L113.60,93.68 L114.10,93.55 L114.60,93.42 L115.10,93.31 L115.60,93.22 L116.10,93.14 L116.60,93.07 L117.10,93.04 L117.60,93.03 L118.10,93.06 L118.60,93.15 L119.10,93.32 L119.60,93.59 L120.10,94.00 L120.60,94.58 L121.10,95.35 L121.60,96.33 L122.10,97.54 L122.60,98.96 L123.10,100.54 L123.60,102.23 L124.10,103.95 L124.60,105.61 L125.10,107.13 L125.60,108.44 L126.10,109.50 L126.60,110.33 L127.10,110.96 L127.60,111.48 L128.10,111.98 L128.60,112.58 L129.10,113.38 L129.60,114.45 L130.10,115.84 L130.60,117.55 L131.10,119.52 L131.60,121.65 L132.10,123.80 L132.60,125.75 L133.10,127.26 L133.60,128.10 L134.10,128.12 L134.60,127.27 L135.10,125.64 L135.60,123.41 L136.10,120.80 L136.60,117.98 L137.10,115.11 L137.60,112.30 L138.10,109.61 L138.60,107.10 L139.10,104.80 L139.60,102.71 L140.10,100.86 L140.60,99.23 L141.10,97.82 L141.60,96.61 L142.10,95.58 L142.60,94.72 L143.10,94.01 L143.60,93.42 L144.10,92.94 L144.60,92.54 L145.10,92.21 L145.60,91.94 L146.10,91.72 L146.60,91.53 L147.10,91.37 L147.60,91.24 L148.10,91.12 L148.60,91.01 L149.10,90.92 L149.60,90.84 L150.10,90.76 L150.60,90.69 L151.10,90.63 L151.60,90.57 L152.10,90.52 L152.60,90.46 L153.10,90.42 L153.60,90.37 L154.10,90.33 L154.60,90.29 L155.10,90.26 L155.60,90.22 L156.10,90.19 L156.60,90.16 L157.10,90.13 L157.60,90.10 L158.10,90.07 L158.60,90.05 L159.10,90.03 L159.60,90.00 L160.10,89.98 L160.60,89.96 L161.10,89.94 L161.60,89.92 L162.10,89.90 L162.60,89.89 L163.10,89.87 L163.60,89.86 L164.10,89.84 L164.60,89.83 L165.10,89.81 L165.60,89.80 L166.10,89.79 L166.60,89.77 L167.10,89.76 L167.60,89.75 L168.10,89.74 L168.60,89.73 L169.10,89.72 L169.60,89.71 L170.10,89.70 L170.60,89.69 L171.10,89.68 L171.60,89.67 L172.10,89.66 L172.60,89.65 L173.10,89.65 L173.60,89.64 L174.10,89.63 L174.60,89.62 L175.10,89.62 L175.60,89.61 L176.10,89.60 L176.60,89.59 L177.10,89.59 L177.60,89.58"/>
<path d="M24.50,173.61 L25.00,173.63 L25.50,173.64 L26.00,173.66 L26.50,173.67 L27.00,173.69 L27.50,173.71 L28.00,173.73 L28.50,173.75 L29.00,173.77 L29.50,173.79 L30.00,173.81 L30.50,173.83 L31.00,173.85 L31.50,173.87 L32.00,173.90 L32.50,173.92 L33.00,173.95 L33.50,173.98 L34.00,174.01 L34.50,174.04 L35.00,174.07 L35.50,174.10 L36.00,174.13 L36.50,174.17 L37.00,174.20 L37.50,174.24 L38.00,174.28 L38.50,174.33 L39.00,174.37 L39.50,174.42 L40.00,174.46 L40.50,174.52 L41.00,174.57 L41.50,174.63 L42.00,174.69 L42.50,174.75 L43.00,174.82 L43.50,174.89 L44.00,174.96 L44.50,175.04 L45.00,175.12 L45.50,175.21 L46.00,175.30 L46.50,175.40 L47.00,175.51 L47.50,175.62 L48.00,175.74 L48.50,175.87 L49.00,176.01 L49.50,176.15 L50.00,176.31 L50.50,176.48 L51.00,176.66 L51.50,176.86 L52.00,177.07 L52.50,177.30 L53.00,177.55 L53.50,177.82 L54.00,178.12 L54.50,178.44 L55.00,178.79 L55.50,179.17 L56.00,179.59 L56.50,180.05 L57.00,180.56 L57.50,181.12 L58.00,181.74 L58.50,182.42 L59.00,183.18 L59.50,184.03 L60.00,184.97 L60.50,186.02 L61.00,187.20 L61.50,188.50 L62.00,189.96 L62.50,191.57 L63.00,193.36 L63.50,195.33 L64.00,197.48 L64.50,199.79 L65.00,202.23 L65.50,204.75 L66.00,207.27 L66.50,209.66 L67.00,211.80 L67.50,213.52 L68.00,214.69 L68.50,215.19 L69.00,214.97 L69.50,214.07 L70.00,212.56 L70.50,210.57 L71.00,208.27 L71.50,205.79 L72.00,203.27 L72.50,200.79 L73.00,198.42 L73.50,196.21 L74.00,194.18 L74.50,192.32 L75.00,190.64 L75.50,189.13 L76.00,187.77 L76.50,186.55 L77.00,185.46 L77.50,184.48 L78.00,183.60 L78.50,182.81 L79.00,182.10 L79.50,181.46 L80.00,180.88 L80.50,180.36 L81.00,179.88 L81.50,179.45 L82.00,179.06 L82.50,178.70 L83.00,178.38 L83.50,178.08 L84.00,177.80 L84.50,177.55 L85.00,177.32 L85.50,177.11 L86.00,176.91 L86.50,176.73 L87.00,176.56 L87.50,176.40 L88.00,176.26 L88.50,176.12 L89.00,175.99 L89.50,175.88 L90.00,175.77 L90.50,175.67 L91.00,175.57 L91.50,175.48 L92.00,175.40 L92.50,175.32 L93.00,175.25 L93.50,175.18 L94.00,175.11 L94.50,175.05 L95.00,175.00 L95.50,174.94 L96.00,174.89 L96.50,174.84 L97.00,174.80 L97.50,174.76 L98.00,174.72 L98.50,174.68 L99.00,174.65 L99.50,174.62 L100.00,174.59 L100.50,174.56 L101.00,174.53 L101.50,174.51 L102.00,174.48 L102.50,174.46 L103.00,174.44 L103.50,174.42 L104.00,174.41 L104.50,174.39 L105.00,174.38 L105.50,174.36 L106.00,174.35 L106.50,174.34 L107.00,174.33 L107.50,174.32 L108.00,174.32 L108.50,174.31 L109.00,174.30 L109.50,174.30 L110.00,174.30 L110.50,174.30 L111.00,174.29 L111.50,174.29 L112.00,174.30 L112.50,174.30 L113.00,174.30 L113.50,174.31 L114.00,174.31 L114.50,174.32 L115.00,174.32 L115.50,174.33 L116.00,174.34 L116.50,174.35 L117.00,174.36 L117.50,174.38 L118.00,174.39 L118.50,174.40 L119.00,174.42 L119.50,174.44 L120.00,174.46 L120.50,174.48 L121.00,174.50 L121.50,174.52 L122.00,174.54 L122.50,174.57 L123.00,174.60 L123.50,174.63 L124.00,174.66 L124.50,174.69 L125.00,174.72 L125.50,174.76 L126.00,174.80 L126.50,174.84 L127.00,174.88 L127.50,174.93 L128.00,174.98 L128.50,175.03 L129.00,175.08 L129.50,175.14 L130.00,175.20 L130.50,175.26 L131.00,175.33 L131.50,175.40 L132.00,175.48 L132.50,175.56 L133.00,175.64 L133.50,175.73 L134.00,175.82 L134.50,175.93 L135.00,176.03 L135.50,176.15 L136.00,176.27 L136.50,176.40 L137.00,176.54 L137.50,176.68 L138.00,176.84 L138.50,177.01 L139.00,177.19 L139.50,177.38 L140.00,177.58 L140.50,177.80 L141.00,178.04 L141.50,178.30 L142.00,178.57 L142.50,178.87 L143.00,179.18 L143.50,179.53 L144.00,179.90 L144.50,180.30 L145.00,180.74 L145.50,181.21 L146.00,181.73 L146.50,182.28 L147.00,182.89 L147.50,183.54 L148.00,184.25 L148.50,185.03 L149.00,185.86 L149.50,186.77 L150.00,187.75 L150.50,188.80 L151.00,189.93 L151.50,191.12 L152.00,192.39 L152.50,193.72 L153.00,195.09 L153.50,196.48 L154.00,197.87 L154.50,199.22 L155.00,200.49 L155.50,201.63 L156.00,202.60 L156.50,203.35 L157.00,203.84 L157.50,204.05 L158.00,203.96 L158.50,203.57 L159.00,202.92 L159.50,202.03 L160.00,200.95 L160.50,199.72 L161.00,198.39 L161.50,197.01 L162.00,195.61 L162.50,194.23 L163.00,192.88 L163.50,191.58 L164.00,190.35 L164.50,189.19 L165.00,188.11 L165.50,187.10 L166.00,186.16 L166.50,185.29 L167.00,184.49 L167.50,183.75 L168.00,183.07 L168.50,182.44 L169.00,181.86 L169.50,181.33 L170.00,180.84 L170.50,180.38 L171.00,179.96 L171.50,179.57 L172.00,179.21 L172.50,178.88 L173.00,178.57 L173.50,178.29 L174.00,178.02 L174.50,177.77 L175.00,177.54 L175.50,177.32 L176.00,177.12 L176.50,176.93 L177.00,176.76 L177.50,176.59 L178.00,176.44 L178.50,176.29 L179.00,176.15 L179.50,176.02 L180.00,175.90 L180.50,175.79 L181.00,175.68 L181.50,175.58 L182.00,175.48 L182.50,175.39 L183.00,175.30 L183.50,175.22 L184.00,175.14 L184.50,175.06 L185.00,174.99 L185.50,174.93 L186.00,174.86 L186.50,174.80 L187.00,174.74 L187.50,174.69 L188.00,174.63 L188.50,174.58 L189.00,174.53 L189.50,174.49 L190.00,174.44 L190.50,174.40 L191.00,174.36 L191.50,174.32 L192.00,174.28 L192.50,174.25 L193.00,174.21 L193.50,174.18 L194.00,174.15 L194.50,174.11 L195.00,174.08 L195.50,174.06 L196.00,174.03 L196.50,174.00 L197.00,173.98 L197.50,173.95 L198.00,173.93 L198.50,173.90 L199.00,173.88 L199.50,173.86 L200.00,173.84 L200.50,173.82 L201.00,173.80 L201.50,173.78 L202.00,173.76 L202.50,173.75 L203.00,173.73 L203.50,173.71 L204.00,173.70 L204.50,173.68 L205.00,173.67 L205.50,173.65 L206.00,173.64 L206.50,173.62 L207.00,173.61 L207.50,173.60 L208.00,173.58 L208.50,173.57 L209.00,173.56 L209.50,173.55 L210.00,173.54"/>
</g>
<path d="M30.42,233.6 V232.20 M37.11,233.6 V232.20 M43.80,233.6 V231.20 M50.49,233.6 V232.20 M57.18,233.6 V232.20 M63.87,233.6 V232.20 M70.56,233.6 V232.20 M77.25,233.6 V231.20 M83.94,233.6 V232.20 M90.63,233.6 V232.20 M97.32,233.6 V232.20 M104.01,233.6 V232.20 M110.70,233.6 V231.20 M117.39,233.6 V232.20 M124.08,233.6 V232.20 M130.77,233.6 V232.20 M137.46,233.6 V232.20 M144.15,233.6 V231.20 M150.84,233.6 V232.20 M157.53,233.6 V232.20 M164.22,233.6 V232.20 M170.91,233.6 V232.20 M177.60,233.6 V231.20 M184.29,233.6 V232.20 M190.98,233.6 V232.20 M197.67,233.6 V232.20 M204.36,233.6 V232.20" stroke="#555" stroke-width="1" fill="none"/>
<rect x="23.7" y="0.4" width="187.20000000000002" height="233.2" fill="none" stroke="#5a5a5a" stroke-width="1.35"/>
<defs><linearGradient id="bg" x1="291" y1="0" x2="589.6" y2="0" gradientUnits="userSpaceOnUse"><stop offset="0" stop-color="#6470bd"/><stop offset="0.45" stop-color="#a7acd9"/><stop offset="1" stop-color="#ebebf6"/></linearGradient></defs>
<path d="M291.00,213.20 L293.04,211.80 L295.08,210.43 L297.12,209.10 L299.17,207.77 L301.21,206.45 L303.25,205.12 L305.29,203.80 L307.33,202.47 L309.38,201.14 L311.42,199.82 L313.46,198.49 L315.50,197.17 L317.54,195.85 L319.58,194.53 L321.62,193.21 L323.67,191.89 L325.71,190.57 L327.75,189.24 L329.79,187.92 L331.83,186.60 L333.88,185.28 L335.92,184.03 L337.96,182.87 L340.00,181.70 L589.60,39.30 L589.60,58.05 L340.00,189.74 L337.96,190.94 L335.92,192.13 L333.88,193.33 L331.83,194.52 L329.79,195.72 L327.75,196.92 L325.71,198.11 L323.67,199.31 L321.62,200.51 L319.58,201.70 L317.54,202.90 L315.50,204.04 L313.46,205.00 L311.42,205.96 L309.38,206.93 L307.33,207.89 L305.29,208.85 L303.25,209.81 L301.21,210.78 L299.17,211.74 L297.12,212.70 L295.08,213.67 L293.04,214.63 L291.00,215.59 Z" fill="url(#bg)"/>
<path d="M291.00,233.5 V229.30 M291.00,0.4 V4.60 M309.66,233.5 V231.20 M309.66,0.4 V2.70 M328.31,233.5 V229.30 M328.31,0.4 V4.60 M346.97,233.5 V231.20 M346.97,0.4 V2.70 M365.62,233.5 V229.30 M365.62,0.4 V4.60 M384.28,233.5 V231.20 M384.28,0.4 V2.70 M402.94,233.5 V229.30 M402.94,0.4 V4.60 M421.59,233.5 V231.20 M421.59,0.4 V2.70 M440.25,233.5 V229.30 M440.25,0.4 V4.60 M458.90,233.5 V231.20 M458.90,0.4 V2.70 M477.56,233.5 V229.30 M477.56,0.4 V4.60 M496.22,233.5 V231.20 M496.22,0.4 V2.70 M514.87,233.5 V229.30 M514.87,0.4 V4.60 M533.53,233.5 V231.20 M533.53,0.4 V2.70 M552.18,233.5 V229.30 M552.18,0.4 V4.60 M570.84,233.5 V231.20 M570.84,0.4 V2.70 M277.8,221.50 H282.30 M589.6,221.50 H585.10 M277.8,196.88 H280.30 M589.6,196.88 H587.10 M277.8,172.25 H282.30 M589.6,172.25 H585.10 M277.8,147.62 H280.30 M589.6,147.62 H587.10 M277.8,123.00 H282.30 M589.6,123.00 H585.10 M277.8,98.38 H280.30 M589.6,98.38 H587.10 M277.8,73.75 H282.30 M589.6,73.75 H585.10 M277.8,49.12 H280.30 M589.6,49.12 H587.10 M277.8,24.50 H282.30 M589.6,24.50 H585.10" stroke="#555" stroke-width="1.1" fill="none"/>
<rect x="277.8" y="0.4" width="311.8" height="233.1" fill="none" stroke="#5a5a5a" stroke-width="1.35"/>
<path d="M291.00,197.37 V221.40 M288.50,197.37 H293.50 M288.50,221.40 H293.50" stroke="#333" stroke-width="1.0" fill="none"/>
<path d="M346.97,184.56 V208.20 M344.47,184.56 H349.47 M344.47,208.20 H349.47" stroke="#333" stroke-width="1.0" fill="none"/>
<path d="M384.28,156.88 V180.92 M381.78,156.88 H386.78 M381.78,180.92 H386.78" stroke="#333" stroke-width="1.0" fill="none"/>
<circle cx="291.00" cy="209.38" r="3.2" fill="#000"/>
<circle cx="346.97" cy="196.38" r="3.2" fill="#000"/>
<circle cx="384.28" cy="168.90" r="3.2" fill="#000"/>
<path d="M346.97,200.32 V221.99 M344.47,200.32 H349.47 M344.47,221.99 H349.47" stroke="#dc4a58" stroke-width="1.0" fill="none"/>
<path d="M384.28,153.29 V176.93 M381.78,153.29 H386.78 M381.78,176.93 H386.78" stroke="#dc4a58" stroke-width="1.0" fill="none"/>
<path d="M477.56,65.87 V89.51 M475.06,65.87 H480.06 M475.06,89.51 H480.06" stroke="#dc4a58" stroke-width="1.0" fill="none"/>
<path d="M570.84,26.96 V50.60 M568.34,26.96 H573.34 M568.34,50.60 H573.34" stroke="#dc4a58" stroke-width="1.0" fill="none"/>
<rect x="344.07" y="208.36" width="5.8" height="5.6" fill="#e8101c"/>
<rect x="381.38" y="162.31" width="5.8" height="5.6" fill="#e8101c"/>
<rect x="474.66" y="74.89" width="5.8" height="5.6" fill="#e8101c"/>
<rect x="567.94" y="35.98" width="5.8" height="5.6" fill="#e8101c"/>
<path d="M242.8,139.2 H248.7 M248.7,136.9 V141.8" stroke="#111" stroke-width="1.15" fill="none"/>
</svg>
<div class="t" style="left:0.30px;top:0.70px;font-size:15.2px;">(a)</div>
<div class="t" style="left:235.10px;top:0.30px;font-size:15.2px;">(b)</div>
<div class="t" style="left:157.30px;top:10.20px;font-size:12.8px;">0 V</div>
<div class="t" style="left:175.00px;top:59.00px;font-size:12.8px;">50 V</div>
<div class="t" style="left:170.20px;top:139.80px;font-size:12.8px;">150 V</div>
<div class="t" style="left:13.80px;width:60px;text-align:center;top:238.2px;font-size:12.8px;">2860</div>
<div class="t" style="left:47.25px;width:60px;text-align:center;top:238.2px;font-size:12.8px;">2865</div>
<div class="t" style="left:80.70px;width:60px;text-align:center;top:238.2px;font-size:12.8px;">2870</div>
<div class="t" style="left:114.15px;width:60px;text-align:center;top:238.2px;font-size:12.8px;">2875</div>
<div class="t" style="left:147.60px;width:60px;text-align:center;top:238.2px;font-size:12.8px;">2880</div>
<div class="t" style="left:181.05px;width:60px;text-align:center;top:238.2px;font-size:12.8px;">2885</div>
<div class="t" style="left:54.00px;top:254.00px;font-size:13.45px;">MW frequency (MHz)</div>
<div class="t" style="left:-72.7px;top:110.3px;width:170px;text-align:center;font-size:13.55px;transform:rotate(-90deg);transform-origin:85px 7px;">Fluorescence intensity (a.u.)</div>
<div class="t" style="left:261.00px;width:60px;text-align:center;top:238.1px;font-size:12.8px;">0</div>
<div class="t" style="left:298.31px;width:60px;text-align:center;top:238.1px;font-size:12.8px;">20</div>
<div class="t" style="left:335.62px;width:60px;text-align:center;top:238.1px;font-size:12.8px;">40</div>
<div class="t" style="left:372.94px;width:60px;text-align:center;top:238.1px;font-size:12.8px;">60</div>
<div class="t" style="left:410.25px;width:60px;text-align:center;top:238.1px;font-size:12.8px;">80</div>
<div class="t" style="left:448.46px;width:60px;text-align:center;top:238.1px;font-size:12.8px;">100</div>
<div class="t" style="left:485.77px;width:60px;text-align:center;top:238.1px;font-size:12.8px;">120</div>
<div class="t" style="left:523.08px;width:60px;text-align:center;top:238.1px;font-size:12.8px;">140</div>
<div class="t" style="left:560.40px;width:60px;text-align:center;top:238.1px;font-size:12.8px;">160</div>
<div class="t" style="left:216px;width:60px;text-align:right;top:215.90px;font-size:12.8px;">0</div>
<div class="t" style="left:216px;width:60px;text-align:right;top:166.65px;font-size:12.8px;">100</div>
<div class="t" style="left:216px;width:60px;text-align:right;top:117.40px;font-size:12.8px;">200</div>
<div class="t" style="left:216px;width:60px;text-align:right;top:68.15px;font-size:12.8px;">300</div>
<div class="t" style="left:216px;width:60px;text-align:right;top:18.90px;font-size:12.8px;">400</div>
<div class="t" style="left:400.60px;top:254.40px;font-size:13.9px;">Voltage (V)</div>
<div class="t" style="left:182px;top:109.6px;width:120px;text-align:center;font-size:14.2px;transform:rotate(-90deg);transform-origin:60px 7px;">E<span style="display:inline-block;width:8.4px"></span>&nbsp;(kV/cm)</div>
<div class="t" style="left:458.00px;top:133.00px;font-size:13.8px;transform:rotate(-26.5deg);transform-origin:0 100%;">Simulation</div>
</body></html>
